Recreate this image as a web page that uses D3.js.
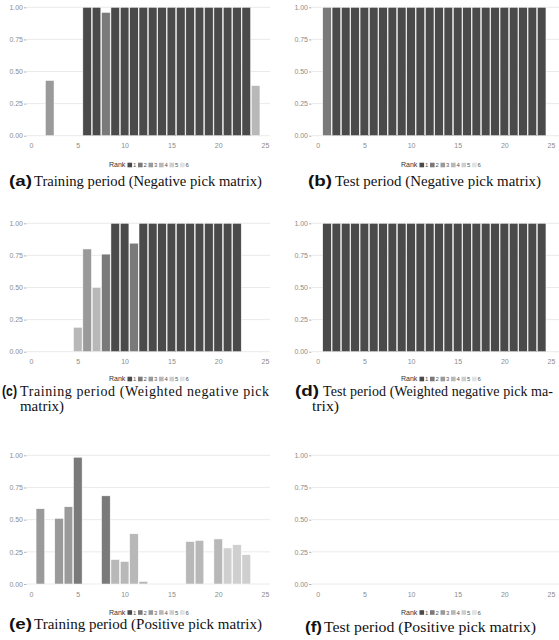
<!DOCTYPE html>
<html>
<head>
<meta charset="utf-8">
<script src="https://cdn.jsdelivr.net/npm/d3@7"></script>
<style>
html,body{margin:0;padding:0;background:#fff;}
svg{display:block;}
</style>
</head>
<body>
<svg id="chart" width="559" height="640"></svg>
<script>
// ---------- data ----------
const xTickValues = [0, 5, 10, 15, 20, 25];
const yTickValues = [0, 0.25, 0.5, 0.75, 1];
const yTickLabels = ["0.00", "0.25", "0.50", "0.75", "1.00"];
const rankLabels = ["1", "2", "3", "4", "5", "6"];
const rankColors = ["#4a4a4a", "#7a7a7a", "#9a9a9a", "#b8b8b8", "#cfcfcf", "#e2e2e2"];

// (a) Training period (Negative pick matrix)
const aPos  = [2, 6, 7, 8, 9, 10, 11, 12, 13, 14, 15, 16, 17, 18, 19, 20, 21, 22, 23, 24];
const aVal  = [0.43, 1, 1, 0.96, 1, 1, 1, 1, 1, 1, 1, 1, 1, 1, 1, 1, 1, 1, 1, 0.39];
const aRank = [3, 1, 1, 2, 1, 1, 1, 1, 1, 1, 1, 1, 1, 1, 1, 1, 1, 1, 1, 4];

// (b) Test period (Negative pick matrix)
const bPos  = [1, 2, 3, 4, 5, 6, 7, 8, 9, 10, 11, 12, 13, 14, 15, 16, 17, 18, 19, 20, 21, 22, 23, 24];
const bVal  = [1, 1, 1, 1, 1, 1, 1, 1, 1, 1, 1, 1, 1, 1, 1, 1, 1, 1, 1, 1, 1, 1, 1, 1];
const bRank = [2, 1, 1, 1, 1, 1, 1, 1, 1, 1, 1, 1, 1, 1, 1, 1, 1, 1, 1, 1, 1, 1, 1, 1];

// (c) Training period (Weighted negative pick matrix)
const cPos  = [5, 6, 7, 8, 9, 10, 11, 12, 13, 14, 15, 16, 17, 18, 19, 20, 21, 22];
const cVal  = [0.19, 0.80, 0.50, 0.76, 1, 1, 0.845, 1, 1, 1, 1, 1, 1, 1, 1, 1, 1, 1];
const cRank = [4, 3, 4, 2, 1, 1, 2, 1, 1, 1, 1, 1, 1, 1, 1, 1, 1, 1];

// (d) Test period (Weighted negative pick matrix)
const dPos  = [1, 2, 3, 4, 5, 6, 7, 8, 9, 10, 11, 12, 13, 14, 15, 16, 17, 18, 19, 20, 21, 22, 23, 24];
const dVal  = [1, 1, 1, 1, 1, 1, 1, 1, 1, 1, 1, 1, 1, 1, 1, 1, 1, 1, 1, 1, 1, 1, 1, 1];
const dRank = [1, 1, 1, 1, 1, 1, 1, 1, 1, 1, 1, 1, 1, 1, 1, 1, 1, 1, 1, 1, 1, 1, 1, 1];

// (e) Training period (Positive pick matrix)
const ePos  = [1, 3, 4, 5, 7, 8, 9, 10, 11, 12, 17, 18, 20, 21, 22, 23];
const eVal  = [0.585, 0.51, 0.60, 0.985, 0.005, 0.685, 0.19, 0.175, 0.39, 0.02, 0.33, 0.338, 0.35, 0.28, 0.305, 0.228];
const eRank = [3, 3, 3, 2, 5, 2, 4, 4, 4, 4, 4, 4, 4, 5, 5, 5];

// (f) Test period (Positive pick matrix)
const fPos  = [];
const fVal  = [];
const fRank = [];

// ---------- drawing ----------
const svg = d3.select("#chart");
const color = d3.scaleOrdinal().domain([1, 2, 3, 4, 5, 6]).range(rankColors);

function panel(cfg) {
  const g = svg.append("g");
  const x = d3.scaleLinear().domain([0, 25]).range([cfg.x0, cfg.x25]);
  const y = d3.scaleLinear().domain([0, 1]).range([cfg.yBottom, cfg.yTop]);
  const clip = "clip" + cfg.id;
  g.append("clipPath").attr("id", clip).append("rect")
    .attr("x", cfg.plotLeft).attr("y", cfg.yTop - 10)
    .attr("width", cfg.plotRight - cfg.plotLeft).attr("height", cfg.yBottom - cfg.yTop + 12);

  // grid
  g.append("g").selectAll("line").data(yTickValues).join("line")
    .attr("x1", cfg.plotLeft).attr("x2", cfg.plotRight)
    .attr("y1", d => y(d)).attr("y2", d => y(d))
    .attr("stroke", "#e4e4e4").attr("stroke-width", 0.8);

  // bars
  const data = cfg.pos.map((p, i) => ({p: p, v: cfg.val[i], r: cfg.rank[i]}));
  const bw = (x(1) - x(0)) * 0.92;
  g.append("g").attr("clip-path", `url(#${clip})`).selectAll("rect").data(data).join("rect")
    .attr("x", d => x(d.p) - bw / 2)
    .attr("width", bw)
    .attr("y", d => y(d.v))
    .attr("height", d => Math.max(0.6, y(0) - y(d.v)))
    .attr("fill", d => color(d.r))
    .attr("stroke", "#ffffff").attr("stroke-width", 0.5);

  // y axis
  const yAxis = d3.axisLeft(y).tickValues(yTickValues)
    .tickFormat((d, i) => yTickLabels[i]).tickSize(2.5).tickPadding(1);
  const ya = g.append("g").attr("transform", `translate(${cfg.plotLeft - 0.5},0)`).call(yAxis);
  ya.select(".domain").remove();
  ya.selectAll("line").attr("stroke", "#b5b5b5");
  ya.selectAll("text").attr("fill", "#8c8c8c").attr("font-size", 7)
    .attr("font-family", "Liberation Sans, Arial, sans-serif");

  // x axis
  const xAxis = d3.axisBottom(x).tickValues(xTickValues).tickSize(0).tickPadding(0);
  const xa = g.append("g").attr("transform", `translate(0,${cfg.xLabelY})`).call(xAxis);
  xa.select(".domain").remove();
  xa.selectAll("text").attr("fill", "#8c8c8c").attr("font-size", 7)
    .attr("font-family", "Liberation Sans, Arial, sans-serif").attr("dy", "0.35em").attr("y", 0);

  // legend
  const lg = g.append("g").attr("transform", `translate(${cfg.legendX},${cfg.legendY})`);
  lg.append("text").text("Rank").attr("x", 0).attr("y", 0).attr("dy", "0.35em")
    .attr("font-size", 7).attr("fill", "#333")
    .attr("font-family", "Liberation Sans, Arial, sans-serif");
  const items = lg.selectAll("g.item").data(rankLabels).join("g").attr("class", "item")
    .attr("transform", (d, i) => `translate(${18.5 + i * 10.5},0)`);
  items.append("rect").attr("x", 0).attr("y", -2.3).attr("width", 4.6).attr("height", 4.6)
    .attr("fill", (d, i) => rankColors[i]);
  items.append("text").text(d => d).attr("x", 5.6).attr("y", 0).attr("dy", "0.35em")
    .attr("font-size", 6).attr("fill", "#555")
    .attr("font-family", "Liberation Sans, Arial, sans-serif");

  // caption
  cfg.caption.forEach(line => {
    if (line.label) {
      g.append("text").text(line.label).attr("x", line.lx).attr("y", line.y)
        .attr("font-family", "Liberation Sans, Arial, sans-serif").attr("font-weight", "bold")
        .attr("font-size", 14).attr("fill", "#111")
        .attr("textLength", line.lw).attr("lengthAdjust", "spacingAndGlyphs");
    }
    g.append("text").text(line.text).attr("x", line.tx).attr("y", line.y)
      .attr("font-family", "Liberation Serif, DejaVu Serif, serif")
      .attr("font-size", 14).attr("fill", "#111")
      .attr("textLength", line.tw).attr("lengthAdjust", line.adjust || "spacingAndGlyphs");
  });
}

const geoL = {x0: 31, x25: 265, plotLeft: 27, plotRight: 270, legendX: 109};
const geoR = {x0: 317.7, x25: 551, plotLeft: 312, plotRight: 566, legendX: 401};
const rowTop = {yTop: 7.3, yBottom: 135.7, xLabelY: 145.7, legendY: 165};
const rowMid = {yTop: 223.3, yBottom: 351.7, xLabelY: 361.7, legendY: 379};
const rowBot = {yTop: 455.3, yBottom: 584, xLabelY: 595, legendY: 612.5};

panel(Object.assign({id: "a", pos: aPos, val: aVal, rank: aRank,
  caption: [{label: "(a)", lx: 9, lw: 23, text: "Training period (Negative pick matrix)", tx: 34, tw: 228, y: 186}]}, geoL, rowTop));
panel(Object.assign({id: "b", pos: bPos, val: bVal, rank: bRank,
  caption: [{label: "(b)", lx: 308, lw: 24, text: "Test period (Negative pick matrix)", tx: 335, tw: 206, y: 186}]}, geoR, rowTop));
panel(Object.assign({id: "c", pos: cPos, val: cVal, rank: cRank,
  caption: [{label: "(c)", lx: 2, lw: 15, text: "Training period (Weighted negative pick", tx: 20, tw: 249, y: 396, adjust: "spacing"},
            {text: "matrix)", tx: 20, tw: 44, y: 411}]}, geoL, rowMid));
panel(Object.assign({id: "d", pos: dPos, val: dVal, rank: dRank,
  caption: [{label: "(d)", lx: 295, lw: 24, text: "Test period (Weighted negative pick ma-", tx: 323, tw: 230, y: 396, adjust: "spacing"},
            {text: "trix)", tx: 312, tw: 27, y: 411}]}, geoR, rowMid));
panel(Object.assign({id: "e", pos: ePos, val: eVal, rank: eRank,
  caption: [{label: "(e)", lx: 9, lw: 23, text: "Training period (Positive pick matrix)", tx: 34, tw: 228, y: 628.5}]}, geoL, rowBot));
panel(Object.assign({id: "f", pos: fPos, val: fVal, rank: fRank,
  caption: [{label: "(f)", lx: 305, lw: 17, text: "Test period (Positive pick matrix)", tx: 324, tw: 212, y: 632}]}, geoR, rowBot));
</script>
</body>
</html>
